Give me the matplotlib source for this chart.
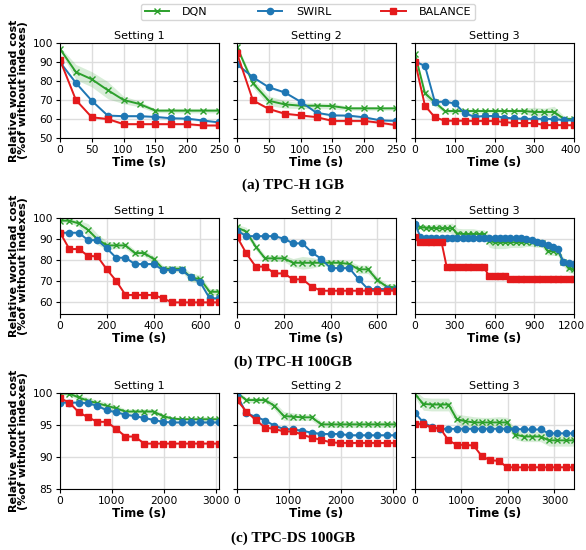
import numpy as np
import matplotlib
matplotlib.use('Agg')
import matplotlib.pyplot as plt
import matplotlib.transforms as mtransforms

# ---------------- data ----------------
# (a) TPC-H 1GB
a_t12 = [0, 25, 50, 75, 100, 125, 150, 175, 200, 225, 250]
a_t3 = [0, 25, 50, 75, 100, 125, 150, 175, 200, 225, 250, 275, 300, 325, 350, 375, 400]

a1_dqn = [96.9, 84.7, 80.9, 75.2, 70.0, 67.9, 64.4, 64.4, 64.4, 64.4, 64.4]
a1_swirl = [89.9, 79.0, 69.6, 61.8, 61.5, 61.5, 61.1, 60.4, 60.2, 59.2, 58.2]
a1_bal = [91.1, 70.0, 60.9, 60.0, 57.3, 57.3, 57.3, 57.3, 57.3, 56.6, 56.6]
a1_dqn_sd = [1.0, 4.0, 4.0, 4.5, 2.0, 1.5, 1.0, 1.2, 1.2, 1.2, 1.2]

a2_dqn = [97.9, 78.8, 69.6, 67.7, 67.0, 67.0, 66.8, 65.6, 65.6, 65.6, 65.6]
a2_swirl = [88.8, 82.0, 76.7, 74.0, 69.1, 63.3, 61.9, 61.8, 60.9, 59.3, 59.0]
a2_bal = [94.6, 69.8, 65.3, 62.8, 61.9, 61.0, 59.0, 59.0, 59.0, 58.0, 56.8]
a2_dqn_sd = [1.0, 2.0, 2.5, 2.0, 1.5, 1.5, 1.5, 1.0, 1.0, 1.0, 1.0]

a3_dqn = [94.2, 73.5, 68.8, 64.2, 64.2, 64.2, 64.2, 64.2, 64.2, 64.2, 64.2, 64.2, 63.7, 63.7, 63.7, 60.0, 60.0]
a3_swirl = [90.2, 88.0, 69.0, 69.1, 68.2, 63.0, 61.2, 61.6, 61.6, 60.7, 60.3, 60.1, 60.1, 60.1, 59.9, 59.5, 59.3]
a3_bal = [90.2, 67.0, 60.9, 59.1, 59.1, 59.1, 59.0, 59.0, 59.0, 58.4, 57.9, 57.9, 57.9, 56.8, 56.8, 56.8, 56.7]
a3_dqn_sd = [1.0, 2.0, 2.0, 1.0, 1.0, 1.0, 1.0, 1.0, 1.0, 1.0, 1.0, 1.5, 2.5, 2.0, 3.0, 1.5, 1.0]

# (b) TPC-H 100GB
b_t12 = [0, 40, 80, 120, 160, 200, 240, 280, 320, 360, 400, 440, 480, 520, 560, 600, 640, 680]
b_t3 = [0, 40, 80, 120, 160, 200, 240, 280, 320, 360, 400, 440, 480, 520, 560, 600,
        640, 680, 720, 760, 800, 840, 880, 920, 960, 1000, 1040, 1080, 1120, 1160, 1200]

b1_dqn = [98.6, 98.6, 97.3, 94.2, 89.8, 86.9, 86.9, 86.9, 83.3, 83.3, 80.5, 75.9, 75.9, 75.9, 71.8, 70.9, 65.0, 65.0]
b1_swirl = [92.9, 92.9, 92.9, 89.4, 89.4, 85.5, 81.1, 81.1, 78.1, 78.1, 78.1, 75.3, 75.3, 75.3, 71.8, 69.4, 61.9, 61.9]
b1_bal = [93.0, 85.2, 85.2, 82.0, 81.7, 75.6, 70.2, 63.5, 63.5, 63.5, 63.5, 61.9, 60.0, 60.0, 60.0, 60.0, 60.0, 60.0]
b1_dqn_sd = [1.0, 1.0, 1.5, 3.0, 2.5, 2.0, 1.5, 1.5, 1.5, 1.5, 1.5, 1.5, 1.5, 1.5, 2.0, 2.0, 1.5, 1.5]

b2_dqn = [95.4, 93.4, 86.3, 80.8, 80.8, 80.8, 78.7, 78.7, 78.7, 78.7, 78.7, 78.7, 78.1, 75.6, 75.6, 70.6, 67.4, 67.1]
b2_swirl = [93.9, 91.3, 91.3, 91.3, 91.3, 90.1, 87.9, 87.9, 83.6, 80.6, 76.2, 76.2, 76.2, 70.9, 66.3, 66.3, 66.3, 66.3]
b2_bal = [91.0, 83.1, 76.9, 76.9, 73.7, 73.7, 70.9, 70.9, 67.4, 65.5, 65.5, 65.5, 65.5, 65.5, 65.5, 65.5, 65.5, 65.5]
b2_dqn_sd = [1.5, 2.0, 1.5, 1.5, 1.5, 1.5, 2.0, 3.0, 2.5, 1.5, 1.5, 1.5, 1.5, 2.0, 2.0, 1.5, 1.5, 1.5]

b3_dqn = [96.7, 95.5, 95.3, 95.2, 95.1, 95.0, 95.0, 95.0, 92.5, 92.3, 92.3, 92.3, 92.3, 92.3, 89.0, 88.4,
          88.4, 88.4, 88.4, 88.4, 88.4, 88.4, 88.4, 88.0, 87.9, 84.3, 84.2, 84.0, 79.2, 76.0, 75.6]
b3_swirl = [97.0, 91.0, 90.5, 90.3, 90.3, 90.3, 90.3, 90.3, 90.3, 90.3, 90.3, 90.3, 90.3, 90.3, 90.3, 90.3,
            90.3, 90.3, 90.3, 90.3, 90.3, 90.0, 89.3, 88.5, 88.0, 87.0, 86.0, 85.0, 79.0, 78.5, 78.3]
b3_bal = [91.0, 88.5, 88.5, 88.5, 88.5, 88.5, 76.5, 76.5, 76.5, 76.5, 76.5, 76.5, 76.5, 76.5, 72.4, 72.4,
          72.4, 72.4, 70.9, 70.9, 70.9, 70.9, 70.9, 70.9, 70.9, 70.9, 70.9, 70.9, 70.9, 70.9, 70.9]
b3_dqn_sd = [1.0, 1.0, 1.5, 1.5, 2.0, 2.0, 2.0, 2.5, 2.5, 2.5, 2.5, 2.5, 2.0, 2.0, 3.0, 3.0,
             3.0, 3.0, 2.5, 2.5, 2.5, 2.0, 2.0, 2.0, 2.0, 2.0, 2.0, 2.0, 2.0, 2.0, 2.0]

# (c) TPC-DS 100GB
c_t12 = [0, 180, 360, 540, 720, 900, 1080, 1260, 1440, 1620, 1800, 1980, 2160, 2340, 2520, 2700, 2880, 3060]
c_t3 = [0, 180, 360, 540, 720, 900, 1080, 1260, 1440, 1620, 1800, 1980, 2160, 2340, 2520, 2700,
        2880, 3060, 3240, 3420]

c1_dqn = [99.95, 99.9, 99.3, 98.8, 98.4, 98.0, 97.6, 97.1, 97.1, 97.1, 97.1, 96.4, 96.0, 95.9, 95.9, 95.9, 95.9, 95.9]
c1_swirl = [98.5, 98.5, 98.5, 98.4, 98.0, 97.3, 97.0, 96.6, 96.4, 96.1, 95.8, 95.5, 95.4, 95.4, 95.4, 95.4, 95.4, 95.4]
c1_bal = [99.2, 98.5, 97.0, 96.2, 95.5, 95.5, 94.4, 93.2, 93.2, 92.1, 92.1, 92.1, 92.1, 92.1, 92.1, 92.1, 92.1, 92.1]
c1_dqn_sd = [0.2, 0.3, 0.4, 0.5, 0.5, 0.5, 0.5, 0.4, 0.4, 0.4, 0.4, 0.4, 0.3, 0.3, 0.3, 0.4, 0.4, 0.3]

c2_dqn = [100.0, 98.9, 98.9, 98.9, 98.0, 96.4, 96.3, 96.2, 96.2, 95.1, 95.1, 95.1, 95.1, 95.1, 95.1, 95.1, 95.1, 95.1]
c2_swirl = [99.7, 96.8, 96.3, 95.7, 94.9, 94.4, 94.3, 94.1, 93.8, 93.6, 93.6, 93.6, 93.4, 93.4, 93.4, 93.4, 93.4, 93.4]
c2_bal = [98.9, 97.1, 95.8, 94.6, 94.4, 94.0, 94.0, 93.5, 93.0, 92.7, 92.3, 92.2, 92.2, 92.2, 92.2, 92.2, 92.2, 92.2]
c2_dqn_sd = [0.3, 0.4, 0.4, 0.4, 0.6, 0.7, 0.6, 0.5, 0.5, 0.5, 0.5, 0.5, 0.5, 0.5, 0.5, 0.5, 0.5, 0.4]

c3_dqn = [99.8, 98.3, 98.2, 98.2, 98.2, 95.9, 95.6, 95.4, 95.4, 95.4, 95.4, 95.4, 93.5, 93.2, 93.2, 93.2,
          92.6, 92.6, 92.6, 92.6]
c3_swirl = [96.9, 95.4, 94.7, 94.4, 94.4, 94.4, 94.4, 94.4, 94.4, 94.4, 94.4, 94.4, 94.4, 94.3, 94.3, 94.3,
            93.7, 93.7, 93.7, 93.7]
c3_bal = [95.2, 95.1, 94.6, 94.5, 92.6, 91.9, 91.9, 91.8, 90.1, 89.5, 89.4, 88.4, 88.4, 88.4, 88.4, 88.4,
          88.4, 88.4, 88.4, 88.4]
c3_dqn_sd = [0.6, 1.0, 1.0, 1.0, 1.0, 0.8, 0.9, 0.9, 0.8, 0.8, 0.9, 0.8, 0.8, 0.8, 0.8, 0.8,
             0.9, 0.9, 0.9, 0.9]

rows = [
    # (panels, ylim, yticks, caption)
    ([(a_t12, a1_dqn, a1_swirl, a1_bal, a1_dqn_sd, 250, [0, 50, 100, 150, 200, 250]),
      (a_t12, a2_dqn, a2_swirl, a2_bal, a2_dqn_sd, 250, [0, 50, 100, 150, 200, 250]),
      (a_t3, a3_dqn, a3_swirl, a3_bal, a3_dqn_sd, 400, [0, 100, 200, 300, 400])],
     (50, 100), [50, 60, 70, 80, 90, 100], '(a) TPC-H 1GB'),
    ([(b_t12, b1_dqn, b1_swirl, b1_bal, b1_dqn_sd, 680, [0, 200, 400, 600]),
      (b_t12, b2_dqn, b2_swirl, b2_bal, b2_dqn_sd, 680, [0, 200, 400, 600]),
      (b_t3, b3_dqn, b3_swirl, b3_bal, b3_dqn_sd, 1200, [0, 300, 600, 900, 1200])],
     (54.5, 100), [60, 70, 80, 90, 100], '(b) TPC-H 100GB'),
    ([(c_t12, c1_dqn, c1_swirl, c1_bal, c1_dqn_sd, 3060, [0, 1000, 2000, 3000]),
      (c_t12, c2_dqn, c2_swirl, c2_bal, c2_dqn_sd, 3060, [0, 1000, 2000, 3000]),
      (c_t3, c3_dqn, c3_swirl, c3_bal, c3_dqn_sd, 3420, [0, 1000, 2000, 3000])],
     (85, 100), [85, 90, 95, 100], '(c) TPC-DS 100GB'),
]

C_DQN = '#2ca02c'
C_SWIRL = '#1f77b4'
C_BAL = '#e41a1c'

plt.rcParams['font.family'] = ['DejaVu Sans']
fig = plt.figure(figsize=(5.86, 5.5), dpi=100)

lefts = [60, 237, 415]
tops = [43, 217.7, 393]
bottoms = [138, 314, 489]
cap_y = [185, 362, 538]
W, H = 586.0, 550.0

handles = None
for r, (panels, ylim, yticks, caption) in enumerate(rows):
    for p, (t, dqn, swirl, bal, dsd, xmax, xticks) in enumerate(panels):
        ax = fig.add_axes([lefts[p] / W, 1 - bottoms[r] / H, 159 / W, (bottoms[r] - tops[r]) / H])
        t = np.array(t)
        dqn = np.array(dqn)
        swirl = np.array(swirl)
        bal = np.array(bal)
        dsd = np.array(dsd)
        band = (ylim[1] - ylim[0]) * 0.012
        ax.fill_between(t, dqn - dsd, dqn + dsd, color=C_DQN, alpha=0.18, lw=0)
        ax.fill_between(t, swirl - band, swirl + band, color=C_SWIRL, alpha=0.18, lw=0)
        ax.fill_between(t, bal - band, bal + band, color=C_BAL, alpha=0.18, lw=0)
        l1, = ax.plot(t, dqn, color=C_DQN, marker='x', ms=4, mew=1.0, lw=1.4, label='DQN')
        l2, = ax.plot(t, swirl, color=C_SWIRL, marker='o', ms=4.5, lw=1.4, label='SWIRL')
        l3, = ax.plot(t, bal, color=C_BAL, marker='s', ms=4.5, lw=1.4, label='BALANCE')
        handles = [l1, l2, l3]
        ax.set_xlim(0, xmax)
        ax.set_ylim(*ylim)
        ax.set_xticks(xticks)
        ax.set_yticks(yticks)
        ax.grid(True, color='#dddddd', lw=1.0)
        ax.set_axisbelow(True)
        ax.tick_params(labelsize=7.7, length=3, pad=2)
        ax.set_title(f'Setting {p + 1}', fontsize=8, pad=3)
        ax.set_xlabel('Time (s)', fontsize=8.5, fontweight='bold', labelpad=1)
        if p == 0:
            ax.set_ylabel('Relative workload cost\n(%of without indexes)', fontsize=8,
                          fontweight='bold', labelpad=3, linespacing=0.95)
        else:
            ax.set_yticklabels([])
        # keep the last tick label of the right-most panel inside the canvas
        if p == 2 and xticks[-1] == xmax:
            lab = ax.get_xticklabels()[-1]
            lab.set_transform(lab.get_transform() +
                              mtransforms.ScaledTranslation(-3 / 100, 0, fig.dpi_scale_trans))
    fig.text(0.5, 1 - cap_y[r] / H, caption, ha='center', va='center',
             fontsize=11, fontweight='bold', family='Liberation Serif')

fig.legend(handles, ['DQN', 'SWIRL', 'BALANCE'], loc='center', bbox_to_anchor=(308 / W, 1 - 12 / H),
           ncol=3, fontsize=8, handlelength=2.2, columnspacing=4.5, frameon=True,
           borderpad=0.3, handletextpad=1.2)

fig.savefig('out.png', dpi=100)
